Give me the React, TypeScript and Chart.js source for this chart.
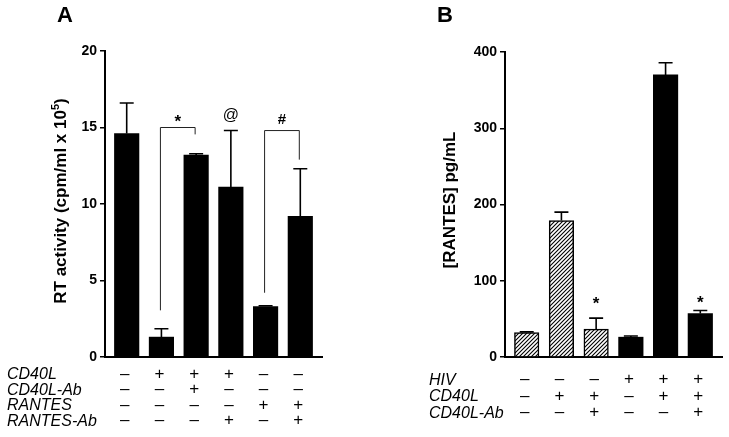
import React, { useEffect, useRef } from 'react';
import { Chart, registerables } from 'chart.js';

Chart.register(...registerables);

const FONT = '"Liberation Sans", Arial, Helvetica, sans-serif';

// ---------- Panel A data ----------
const slotsA = [1, 2, 3, 4, 5, 6];
const valuesA = [14.6, 1.3, 13.2, 11.1, 3.3, 9.2];
const errorsA = [2.0, 0.55, 0.08, 3.7, 0.05, 3.1];
const hatchedA = [false, false, false, false, false, false];
const rowLabelsA = ['CD40L', 'CD40L-Ab', 'RANTES', 'RANTES-Ab'];
const signsA = ['-+++--', '--+---', '----++', '---+-+'];
const yMaxA = 20;
const yStepA = 5;
// brackets: [leftSlot, rightSlot, leftBottom, top, rightBottom, label, labelY]
const bracketsA: [number, number, number, number, number, string, number][] = [
  [2, 3, 3.05, 15.0, 14.55, '*', 15.55],
  [5, 6, 4.2, 14.8, 12.9, '#', 15.5],
];
// single marks: [slot, y, label]
const marksA: [number, number, string][] = [[4, 15.8, '@']];

// ---------- Panel B data ----------
const slotsB = [1, 2, 3, 4, 5, 6];
const valuesB = [32, 179, 36.5, 26, 370, 57];
const errorsB = [1, 11, 14.5, 1.5, 16, 4];
const hatchedB = [true, true, true, false, false, false];
const rowLabelsB = ['HIV', 'CD40L', 'CD40L-Ab'];
const signsB = ['---+++', '-++-++', '--+--+'];
const yMaxB = 400;
const yStepB = 100;
const bracketsB: [number, number, number, number, number, string, number][] = [];
const marksB: [number, number, string][] = [
  [3, 73, '*'],
  [6, 74, '*'],
];

type Cfg = {
  letter: string;
  letterX: number;
  slots: number[];
  values: number[];
  errors: number[];
  hatched: boolean[];
  rowLabels: string[];
  signs: string[];
  yMax: number;
  yStep: number;
  brackets: [number, number, number, number, number, string, number][];
  marks: [number, number, string][];
  axisLeft: number;
  padTop: number;
  padRight: number;
  bottomH: number;
  titleX: number;
  titleY: number;
  titleMain: string;
  titleSup: string;
  titleEnd: string;
  labelX: number;
  rowTop: number;
  rowGap: number;
};

function Panel({ cfg, left, width }: { cfg: Cfg; left: number; width: number }) {
  const ref = useRef<HTMLCanvasElement>(null);
  useEffect(() => {
    const canvas = ref.current!;
    const ctx = canvas.getContext('2d')!;
    const tile = document.createElement('canvas');
    tile.width = 4;
    tile.height = 4;
    const tg = tile.getContext('2d')!;
    tg.fillStyle = '#fff';
    tg.fillRect(0, 0, 4, 4);
    tg.strokeStyle = '#000';
    tg.lineWidth = 1.1;
    tg.beginPath();
    tg.moveTo(-1, 5);
    tg.lineTo(5, -1);
    tg.moveTo(-1, 1);
    tg.lineTo(1, -1);
    tg.moveTo(3, 5);
    tg.lineTo(5, 3);
    tg.stroke();
    const hatch = ctx.createPattern(tile, 'repeat');

    const overlay = {
      id: 'overlay',
      afterDatasetsDraw(chart: any) {
        const c = chart.ctx as CanvasRenderingContext2D;
        const xs = chart.scales.x;
        const ys = chart.scales.y;
        c.save();
        // error bars
        c.strokeStyle = '#000';
        c.lineWidth = 1.6;
        cfg.values.forEach((v, i) => {
          const x = xs.getPixelForValue(cfg.slots[i]);
          const y0 = ys.getPixelForValue(v);
          const y1 = ys.getPixelForValue(v + cfg.errors[i]);
          c.beginPath();
          c.moveTo(x, y0);
          c.lineTo(x, y1);
          c.moveTo(x - 7, y1);
          c.lineTo(x + 7, y1);
          c.stroke();
        });
        // brackets
        c.lineWidth = 1;
        c.strokeStyle = '#222';
        c.fillStyle = '#000';
        c.textAlign = 'center';
        c.textBaseline = 'middle';
        cfg.brackets.forEach(([a, b, lb, top, rb, label, ly]) => {
          const xa = xs.getPixelForValue(a) - 1;
          const xb = xs.getPixelForValue(b) - 1;
          c.beginPath();
          c.moveTo(xa, ys.getPixelForValue(lb));
          c.lineTo(xa, ys.getPixelForValue(top));
          c.lineTo(xb, ys.getPixelForValue(top));
          c.lineTo(xb, ys.getPixelForValue(rb));
          c.stroke();
          c.font = `bold ${label === '*' ? 17 : 15}px ${FONT}`;
          c.fillText(label, (xa + xb) / 2, ys.getPixelForValue(ly) + (label === '*' ? 3 : 0));
        });
        cfg.marks.forEach(([s, y, label]) => {
          c.font = label === '*' ? `bold 17px ${FONT}` : `16px ${FONT}`;
          c.fillText(label, xs.getPixelForValue(s), ys.getPixelForValue(y) + (label === '*' ? 3 : 0));
        });
        // table
        cfg.rowLabels.forEach((lab, r) => {
          const y = cfg.rowTop + r * cfg.rowGap;
          c.textAlign = 'left';
          c.font = `italic 16px ${FONT}`;
          c.fillText(lab, cfg.labelX, y);
          c.textAlign = 'center';
          c.font = `17px ${FONT}`;
          cfg.signs[r].split('').forEach((s, i) => {
            c.fillText(s === '+' ? '+' : '\u2013', xs.getPixelForValue(cfg.slots[i]) - 2, y - 1);
          });
        });
        // panel letter
        c.font = `bold 22px ${FONT}`;
        c.textAlign = 'center';
        c.fillText(cfg.letter, cfg.letterX, 16);
        // y title
        c.translate(cfg.titleX, cfg.titleY);
        c.rotate(-Math.PI / 2);
        const fMain = `bold 17px ${FONT}`;
        const fSup = `bold 11px ${FONT}`;
        c.font = fMain;
        const wMain = c.measureText(cfg.titleMain).width;
        const wEnd = c.measureText(cfg.titleEnd).width;
        c.font = fSup;
        const wSup = c.measureText(cfg.titleSup).width;
        const total = wMain + wSup + wEnd;
        let px = -total / 2;
        c.textAlign = 'left';
        c.font = fMain;
        c.fillText(cfg.titleMain, px, 0);
        px += wMain;
        c.font = fSup;
        c.fillText(cfg.titleSup, px, -6);
        px += wSup;
        c.font = fMain;
        c.fillText(cfg.titleEnd, px, 0);
        c.restore();
      },
    };

    const chart = new Chart(canvas, {
      type: 'bar',
      data: {
        datasets: [
          {
            data: cfg.values.map((v, i) => ({ x: cfg.slots[i], y: v })),
            backgroundColor: cfg.hatched.map((h) => (h ? hatch : '#000')) as any,
            borderColor: '#000',
            borderWidth: cfg.hatched.map((h) => (h ? 1.5 : 0)) as any,
            barThickness: 24.5,
            borderSkipped: 'start',
          },
        ],
      },
      options: {
        responsive: false,
        animation: false,
        events: [],
        layout: { padding: { left: 0, top: cfg.padTop, right: cfg.padRight, bottom: 0 } },
        plugins: {
          legend: { display: false },
          tooltip: { enabled: false },
          title: { display: false },
        },
        scales: {
          x: {
            type: 'linear',
            offset: false,
            min: 0.375,
            max: 6.625,
            ticks: { display: false },
            grid: { display: true, offset: false, drawOnChartArea: false, drawTicks: false },
            border: { display: true, color: '#000', width: 2 },
            afterFit: (s: any) => {
              s.height = cfg.bottomH;
            },
          },
          y: {
            min: 0,
            max: cfg.yMax,
            ticks: {
              stepSize: cfg.yStep,
              color: '#000',
              padding: 3,
              font: { family: FONT, size: 14, weight: 'bold' },
            },
            grid: {
              display: true,
              drawOnChartArea: false,
              drawTicks: true,
              tickLength: 5,
              color: '#000',
              lineWidth: 1.5,
            },
            border: { display: true, color: '#000', width: 2 },
            afterFit: (s: any) => {
              s.width = cfg.axisLeft;
            },
          },
        },
      } as any,
      plugins: [overlay],
    });
    return () => chart.destroy();
  }, [cfg]);
  return (
    <canvas
      ref={ref}
      width={width}
      height={437}
      style={{ position: 'absolute', left, top: 0, width, height: 437 }}
    />
  );
}

const cfgA: Cfg = {
  letter: 'A',
  letterX: 65,
  slots: slotsA,
  values: valuesA,
  errors: errorsA,
  hatched: hatchedA,
  rowLabels: rowLabelsA,
  signs: signsA,
  yMax: yMaxA,
  yStep: yStepA,
  brackets: bracketsA,
  marks: marksA,
  axisLeft: 105,
  padTop: 51,
  padRight: 38,
  bottomH: 80,
  titleX: 61.5,
  titleY: 201,
  titleMain: 'RT activity (cpm/ml x 10',
  titleSup: '5',
  titleEnd: ')',
  labelX: 7,
  rowTop: 375,
  rowGap: 15.5,
};

const cfgB: Cfg = {
  letter: 'B',
  letterX: 85,
  slots: slotsB,
  values: valuesB,
  errors: errorsB,
  hatched: hatchedB,
  rowLabels: rowLabelsB,
  signs: signsB,
  yMax: yMaxB,
  yStep: yStepB,
  brackets: bracketsB,
  marks: marksB,
  axisLeft: 145,
  padTop: 52,
  padRight: 7,
  bottomH: 80,
  titleX: 90,
  titleY: 200,
  titleMain: '[RANTES] pg/mL',
  titleSup: '',
  titleEnd: '',
  labelX: 69,
  rowTop: 380.5,
  rowGap: 16.5,
};

export default function App() {
  return (
    <div
      style={{
        position: 'fixed',
        left: 0,
        top: 0,
        width: 729,
        height: 437,
        background: '#fff',
        overflow: 'hidden',
      }}
    >
      <Panel cfg={cfgA} left={0} width={360} />
      <Panel cfg={cfgB} left={360} width={369} />
    </div>
  );
}
